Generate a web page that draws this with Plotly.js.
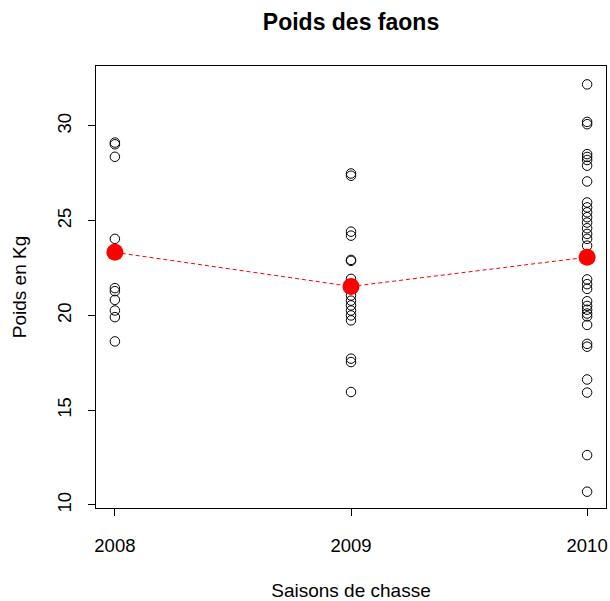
<!DOCTYPE html>
<html>
<head>
<meta charset="utf-8">
<script src="https://cdn.plot.ly/plotly-3.0.1.min.js"></script>
<style>html,body{margin:0;padding:0;background:#fff;}#chart{width:610px;height:601px;}</style>
</head>
<body>
<div id="chart"></div>
<script>
var seasons = [2008, 2009, 2010];
var tickLabels = ["2008", "2009", "2010"];
var poids2008 = [29.12, 29.03, 28.37, 24.04, 21.44, 21.28, 20.82, 20.26, 19.91, 18.63];
var poids2009 = [27.49, 27.37, 24.42, 24.21, 22.93, 22.88, 21.93, 21.05, 20.78, 20.53, 20.26, 20.0, 19.74, 17.72, 17.54, 15.96];
var poids2010 = [32.19, 30.21, 30.09, 28.51, 28.36, 28.2, 27.9, 27.07, 25.96, 25.7, 25.44, 25.18, 24.9, 24.6, 24.3, 24.04, 23.68, 21.9, 21.65, 21.4, 20.75, 20.5, 20.3, 20.1, 19.95, 19.5, 18.5, 18.35, 16.62, 15.93, 12.63, 10.7];
var moyennes = [23.33, 21.53, 23.07];

var allX = [], allY = [];
[poids2008, poids2009, poids2010].forEach(function(arr, i){
  arr.forEach(function(v){ allX.push(seasons[i]); allY.push(v); });
});

var font = "Liberation Sans, Arial, sans-serif";
var traces = [
  {x: allX, y: allY, type: 'scatter', mode: 'markers',
   marker: {symbol: 'circle-open', size: 9.5, color: '#000', line: {width: 1, color: '#000'}},
   hoverinfo: 'y'},
  {x: seasons, y: moyennes, type: 'scatter', mode: 'lines+markers',
   line: {color: '#ff0000', width: 1, dash: '4px,3px'},
   marker: {symbol: 'circle', size: 17, color: '#ff0000'}}
];

var layout = {
  width: 610, height: 601,
  margin: {l: 96, r: 4, t: 66, b: 93},
  paper_bgcolor: '#fff', plot_bgcolor: '#fff',
  showlegend: false,
  font: {family: font, size: 18, color: '#000'},
  title: {text: '<b>Poids des faons</b>', font: {family: font, size: 23, color: '#000'},
          x: 0.5, xref: 'paper', y: 0.964, yref: 'container', yanchor: 'middle'},
  xaxis: {
    range: [2007.92, 2010.08], tickvals: seasons, ticktext: tickLabels,
    showgrid: false, zeroline: false, showline: true, mirror: true,
    linecolor: '#000', linewidth: 1, ticks: 'outside', ticklen: 7, tickcolor: '#000',
    ticklabelstandoff: 14,
    tickfont: {family: font, size: 18.5},
    title: {text: 'Saisons de chasse', font: {family: font, size: 19}, standoff: 29}
  },
  yaxis: {
    range: [9.84, 33.16], tickvals: [10, 15, 20, 25, 30],
    showgrid: false, zeroline: false, showline: true, mirror: true,
    linecolor: '#000', linewidth: 1, ticks: 'outside', ticklen: 7, tickcolor: '#000',
    tickangle: -90, ticklabelstandoff: 10,
    tickfont: {family: font, size: 18.5},
    title: {text: 'Poids en Kg', font: {family: font, size: 19}, standoff: 21}
  }
};

Plotly.newPlot('chart', traces, layout, {staticPlot: true});
</script>
</body>
</html>
